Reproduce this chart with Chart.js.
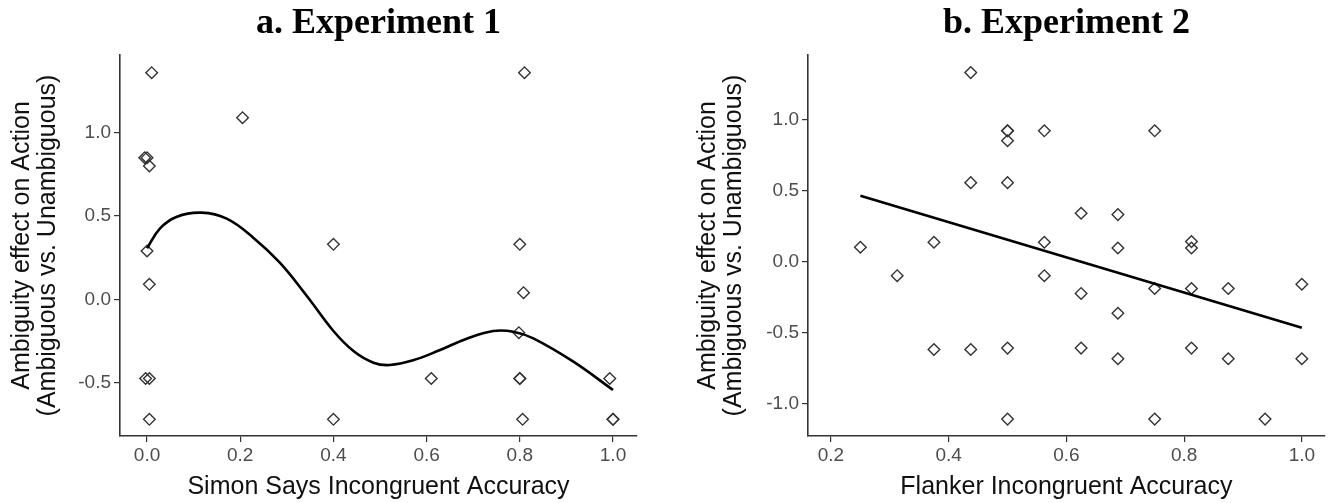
<!DOCTYPE html>
<html>
<head>
<meta charset="utf-8">
<script src="https://cdn.jsdelivr.net/npm/chart.js@4.4.1/dist/chart.umd.min.js"></script>
<style>
  body { margin: 0; background: #fff; }
  #grafico_1 { position: absolute; left: 0; top: 0; }
  #grafico_2 { position: absolute; left: 660px; top: 0; }
</style>
</head>
<body>
<canvas id="grafico_1" width="660" height="503"></canvas>
<canvas id="grafico_2" width="672" height="503"></canvas>
<script>

// ESPERIMENTO 1 - punti (accuratezza, effetto ambiguita')
var exp1_x = [0.01, 0.205, -0.005, 0.0, 0.005, 0.0, 0.005, -0.003, 0.005, 0.005,
              0.81, 0.40, 0.80, 0.808, 0.798, 0.61, 0.80, 0.80, 0.993, 0.40, 0.806, 1.0, 1.0];
var exp1_y = [1.36, 1.09, 0.85, 0.85, 0.80, 0.29, 0.09, -0.475, -0.475, -0.72,
              1.36, 0.33, 0.33, 0.04, -0.20, -0.475, -0.475, -0.475, -0.475, -0.72, -0.72, -0.72, -0.72];

// curva smussata (loess)
var exp1_curva_x = [0.0, 0.028, 0.064, 0.117, 0.171, 0.228, 0.285, 0.343, 0.40, 0.443,
                    0.486, 0.521, 0.571, 0.629, 0.686, 0.743, 0.786, 0.829, 0.915, 1.0];
var exp1_curva_y = [0.306, 0.426, 0.496, 0.52, 0.484, 0.37, 0.22, 0.02, -0.19, -0.31,
                    -0.38, -0.394, -0.366, -0.304, -0.236, -0.19, -0.194, -0.234, -0.374, -0.544];

// ESPERIMENTO 2 - punti
var exp2_x = [0.25, 0.3125, 0.375, 0.375, 0.4375, 0.4375, 0.4375,
              0.5, 0.5, 0.5, 0.5, 0.5, 0.5,
              0.5625, 0.5625, 0.5625, 0.625, 0.625, 0.625,
              0.6875, 0.6875, 0.6875, 0.6875, 0.75, 0.75, 0.75,
              0.8125, 0.8125, 0.8125, 0.8125, 0.875, 0.875, 0.9375, 1.0, 1.0];
var exp2_y = [0.10, -0.10, 0.135, -0.62, 1.33, 0.555, -0.62,
              0.92, 0.92, 0.85, 0.555, -0.61, -1.11,
              0.92, 0.135, -0.10, 0.34, -0.225, -0.61,
              0.33, 0.095, -0.365, -0.685, 0.92, -0.19, -1.11,
              0.14, 0.095, -0.19, -0.61, -0.19, -0.685, -1.11, -0.16, -0.685];

// retta di regressione
var exp2_retta_x = [0.25, 1.0];
var exp2_retta_y = [0.463, -0.466];

// etichette degli assi
var tick_x_1 = [0.0, 0.2, 0.4, 0.6, 0.8, 1.0];
var tick_y_1 = [-0.5, 0.0, 0.5, 1.0];
var tick_x_2 = [0.2, 0.4, 0.6, 0.8, 1.0];
var tick_y_2 = [-1.0, -0.5, 0.0, 0.5, 1.0];

var titolo_y = ['Ambiguity effect on Action', '(Ambiguous vs. Unambiguous)'];

function coppie(xs, ys) {
  var out = [];
  for (var i = 0; i < xs.length; i++) {
    out.push({x: xs[i], y: ys[i]});
  }
  return out;
}

function disegna_grafico(id, cfg) {
  var colore_asse = '#333333';
  var font_tick = {family: "'Liberation Sans', Arial, sans-serif", size: 19};
  var font_titolo_asse = {family: "'Liberation Sans', Arial, sans-serif", size: 25, lineHeight: 1.04};

  var chart = new Chart(document.getElementById(id), {
    type: 'scatter',
    data: {
      datasets: [{
        // la linea va sopra i punti
        data: coppie(cfg.linea_x, cfg.linea_y),
        showLine: true,
        borderColor: '#000',
        borderWidth: 2.6,
        pointRadius: 0,
        tension: 0.4,
        fill: false
      }, {
        data: coppie(cfg.punti_x, cfg.punti_y),
        pointStyle: 'rectRot',
        pointRadius: 5.8,
        pointBorderColor: '#333333',
        pointBackgroundColor: 'rgba(255,255,255,0)',
        pointBorderWidth: 1.4
      }]
    },
    options: {
      responsive: false,
      animation: false,
      layout: {padding: {left: 0, right: cfg.pad_destra, top: 0, bottom: 0}},
      plugins: {
        legend: {display: false},
        tooltip: {enabled: false},
        title: {
          display: true,
          text: cfg.titolo,
          fullSize: false,
          color: '#000',
          font: {family: "'Liberation Serif', 'Times New Roman', serif", size: 36, weight: 'bold', lineHeight: 1.2},
          padding: {top: 2, bottom: 9.8}
        }
      },
      scales: {
        x: {
          type: 'linear',
          min: cfg.x_min,
          max: cfg.x_max,
          afterFit: function(scale) { scale.height = 67; },
          afterBuildTicks: function(scale) {
            scale.ticks = cfg.tick_x.map(function(v) { return {value: v}; });
          },
          ticks: {
            color: '#4d4d4d',
            font: font_tick,
            padding: 2,
            maxRotation: 0,
            callback: function(v) { return v.toFixed(1); }
          },
          grid: {drawOnChartArea: false, drawTicks: true, tickLength: 6, color: colore_asse, lineWidth: 1.2},
          border: {display: true, color: colore_asse, width: 1.6},
          title: {
            display: true,
            text: cfg.titolo_x,
            color: '#111',
            font: font_titolo_asse,
            padding: {top: 0, bottom: 3}
          }
        },
        y: {
          type: 'linear',
          min: cfg.y_min,
          max: cfg.y_max,
          afterFit: function(scale) { scale.width = cfg.larghezza_y; },
          afterBuildTicks: function(scale) {
            scale.ticks = cfg.tick_y.map(function(v) { return {value: v}; });
          },
          ticks: {
            color: '#4d4d4d',
            font: font_tick,
            padding: 3,
            callback: function(v) { return v.toFixed(1); }
          },
          grid: {drawOnChartArea: false, drawTicks: true, tickLength: 6, color: colore_asse, lineWidth: 1.2},
          border: {display: true, color: colore_asse, width: 1.6},
          title: {
            display: true,
            text: titolo_y,
            color: '#111',
            font: font_titolo_asse,
            padding: {top: cfg.pad_titolo_y, bottom: 0}
          }
        }
      }
    }
  });
  return chart;
}

disegna_grafico('grafico_1', {
  titolo: 'a. Experiment 1',
  titolo_x: 'Simon Says Incongruent Accuracy',
  punti_x: exp1_x, punti_y: exp1_y,
  linea_x: exp1_curva_x, linea_y: exp1_curva_y,
  x_min: -0.058, x_max: 1.0515,
  y_min: -0.82, y_max: 1.466,
  tick_x: tick_x_1, tick_y: tick_y_1,
  larghezza_y: 120, pad_destra: 23, pad_titolo_y: 9
});

disegna_grafico('grafico_2', {
  titolo: 'b. Experiment 2',
  titolo_x: 'Flanker Incongruent Accuracy',
  punti_x: exp2_x, punti_y: exp2_y,
  linea_x: exp2_retta_x, linea_y: exp2_retta_y,
  x_min: 0.161, x_max: 1.039,
  y_min: -1.229, y_max: 1.454,
  tick_x: tick_x_2, tick_y: tick_y_2,
  larghezza_y: 148, pad_destra: 7, pad_titolo_y: 35
});

</script>
</body>
</html>
